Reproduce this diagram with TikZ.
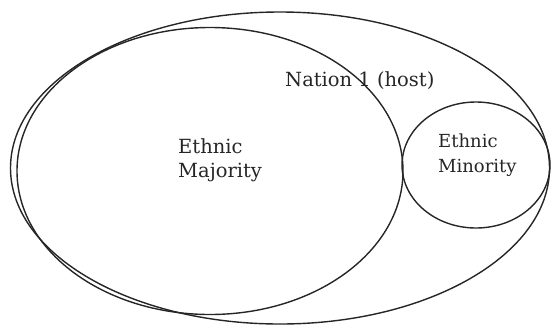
\documentclass[tikz,border=0pt]{standalone}
\usepackage{fontspec}
\setmainfont{DejaVu Serif}
\usetikzlibrary{shapes.geometric}
\tikzset{
  ring/.style={ellipse, draw=black!85, line width=1.4pt, inner sep=0pt},
  lbl/.style={anchor=base west, inner sep=0pt, font=\fontsize{19.5}{23}\selectfont, text=black!85}
}
\begin{document}
\begin{tikzpicture}[x=1pt,y=-1pt]
\useasboundingbox (0,0) rectangle (551,325);
\node[ring, minimum width=539pt, minimum height=312pt] (nation) at (280,168) {};
\node[ring, minimum width=386pt, minimum height=287pt] (majority) at (210,171) {};
\node[ring, minimum width=148pt, minimum height=126pt] (minority) at (476,165) {};
\node[lbl] (nlabel) at (285,86) {Nation 1 (host)};
\node[lbl] (maj1) at (178,153) {Ethnic};
\node[lbl] (maj2) at (178,177) {Majority};
\node[lbl, font=\fontsize{18}{22}\selectfont] (min1) at (438,147) {Ethnic};
\node[lbl, font=\fontsize{18}{22}\selectfont] (min2) at (438,172) {Minority};
\end{tikzpicture}
\end{document}
